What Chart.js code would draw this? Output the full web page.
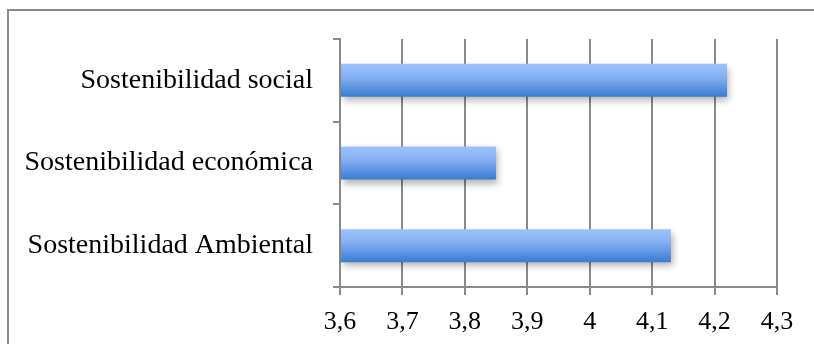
<!DOCTYPE html>
<html>
<head>
<meta charset="utf-8">
<script src="https://cdn.jsdelivr.net/npm/chart.js@4/dist/chart.umd.min.js"></script>
<style>
  html, body { margin: 0; padding: 0; background: #fff; }
  #wrap { width: 814px; height: 344px; position: relative; }
</style>
</head>
<body>
<div id="wrap"><canvas id="c" width="814" height="344"></canvas></div>
<script>
// Categories, top to bottom
const categories = ['Sostenibilidad social', 'Sostenibilidad económica', 'Sostenibilidad Ambiental'];
// Mean score per category
const scores = [4.22, 3.85, 4.13];
// Value axis range and labels
const axisMin = 3.6;
const axisMax = 4.3;
const axisStep = 0.1;
const tickLabels = ['3,6', '3,7', '3,8', '3,9', '4', '4,1', '4,2', '4,3'];

const GRID = '#8a8a8a';
const FONT = '"Liberation Serif", "DejaVu Serif", serif';
const BAR_PCT = 0.4;

// Outer frame of the chart area
const framePlugin = {
  id: 'frame',
  beforeDraw(chart) {
    const ctx = chart.ctx;
    ctx.save();
    ctx.strokeStyle = GRID;
    ctx.lineWidth = 2;
    ctx.beginPath();
    ctx.moveTo(8, chart.height + 2);
    ctx.lineTo(8, 10);
    ctx.lineTo(chart.width + 2, 10);
    ctx.stroke();
    ctx.restore();
  }
};

// Soft drop shadow under the bars
const shadowPlugin = {
  id: 'barShadow',
  beforeDatasetsDraw(chart) {
    const ctx = chart.ctx;
    ctx.save();
    ctx.shadowColor = 'rgba(0,0,0,0.3)';
    ctx.shadowBlur = 7;
    ctx.shadowOffsetX = 2;
    ctx.shadowOffsetY = 4;
  },
  afterDatasetsDraw(chart) {
    chart.ctx.restore();
  }
};

// Vertical light-to-dark blue gradient for each bar
function barGradient(context) {
  const chart = context.chart;
  const yScale = chart.scales.y;
  if (!yScale || !chart.chartArea || context.dataIndex === undefined) return '#6a9fe8';
  const center = yScale.getPixelForValue(context.dataIndex);
  const half = (chart.chartArea.height / categories.length) * BAR_PCT / 2;
  const g = chart.ctx.createLinearGradient(0, center - half, 0, center + half);
  g.addColorStop(0, '#9dc3fd');
  g.addColorStop(0.4, '#84b0f3');
  g.addColorStop(1, '#3a7cd0');
  return g;
}

new Chart(document.getElementById('c'), {
  type: 'bar',
  data: {
    labels: categories,
    datasets: [{
      data: scores,
      base: axisMin,
      backgroundColor: barGradient,
      borderWidth: 0,
      barPercentage: BAR_PCT,
      categoryPercentage: 1.0
    }]
  },
  options: {
    indexAxis: 'y',
    responsive: false,
    animation: false,
    events: [],
    layout: { padding: { top: 39, right: 37, bottom: 0, left: 0 } },
    plugins: { legend: { display: false }, tooltip: { enabled: false } },
    scales: {
      x: {
        min: axisMin,
        max: axisMax,
        afterFit(scale) { scale.height = 57; },
        ticks: {
          stepSize: axisStep,
          color: '#000',
          font: { family: FONT, size: 26 },
          padding: 12,
          maxRotation: 0,
          autoSkip: false,
          callback: (v, i) => tickLabels[i]
        },
        grid: { color: GRID, lineWidth: 2, tickLength: 8 },
        border: { display: true, color: GRID, width: 2 }
      },
      y: {
        afterFit(scale) { scale.width = 340; },
        ticks: {
          color: '#000',
          font: { family: FONT, size: 28 },
          padding: 20
        },
        grid: { offset: true, drawOnChartArea: false, color: GRID, lineWidth: 2, tickLength: 7 },
        border: { display: true, color: GRID, width: 2 }
      }
    }
  },
  plugins: [framePlugin, shadowPlugin]
});
</script>
</body>
</html>
